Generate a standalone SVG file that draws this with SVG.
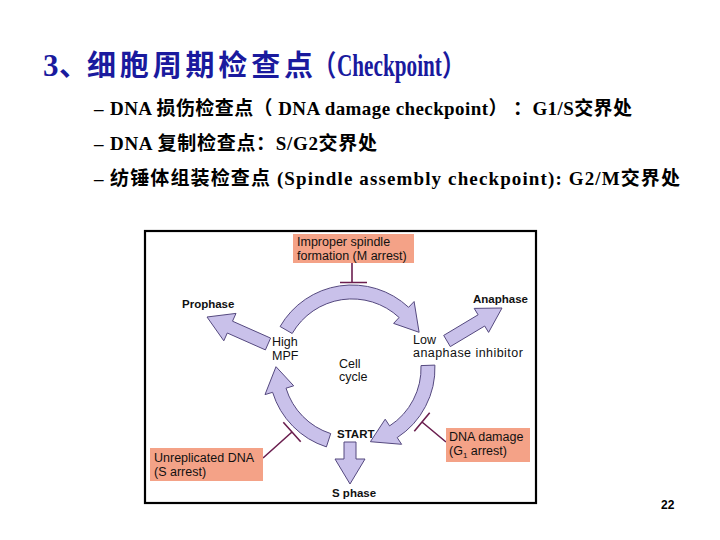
<svg xmlns="http://www.w3.org/2000/svg" width="720" height="540" viewBox="0 0 720 540">
<style>
  .title-cjk { font-family: "Noto Sans CJK SC", sans-serif; font-size: 29px; font-weight: bold; fill: #1a1a9e; }
  .title-lat { font-family: "Liberation Serif", serif; font-size: 31px; font-weight: bold; fill: #1a1a9e; }
  .bullet { font-family: "Liberation Serif", "Noto Sans CJK SC", serif; font-weight: bold; font-size: 19px; fill: #000; }
  .lbl { font-family: "Liberation Sans", Arial, sans-serif; font-size: 12.5px; fill: #111; }
  .lblb { font-family: "Liberation Sans", Arial, sans-serif; font-size: 11.5px; font-weight: bold; fill: #111; }
  .pink { fill: #f4a287; }
  .arrow { fill: #c9c1ea; stroke: #55497f; stroke-width: 1; stroke-linejoin: round; }
  .inhib { stroke: #6b1f4f; stroke-width: 1.6; fill: none; }
</style>

<g id="title">
  <text class="title-lat" x="43" y="76">3</text>
  <text class="title-cjk" x="59" y="76">、</text>
  <text class="title-cjk" x="87" y="76" textLength="226" lengthAdjust="spacing">细胞周期检查点</text>
  <text class="title-cjk" transform="translate(313,76) scale(0.8,1)">（</text>
  <text class="title-lat" transform="translate(337,76) scale(0.685,1)">Checkpoint</text>
  <text class="title-cjk" transform="translate(442,76) scale(0.8,1)">）</text>
</g>

<g id="bullets">
  <text class="bullet" x="94" y="115" font-size="16">–</text>
  <text class="bullet" x="110" y="115" textLength="522" lengthAdjust="spacing">DNA 损伤检查点（ DNA damage checkpoint） ：G1/S交界处</text>
  <text class="bullet" x="94" y="150" font-size="16">–</text>
  <text class="bullet" x="110" y="150" textLength="267" lengthAdjust="spacing">DNA 复制检查点：S/G2交界处</text>
  <text class="bullet" x="94" y="185" font-size="16">–</text>
  <text class="bullet" x="110" y="185" textLength="570" lengthAdjust="spacing">纺锤体组装检查点 (Spindle assembly checkpoint): G2/M交界处</text>
</g>

<g id="figure-frame">
  <rect x="145" y="231" width="391" height="272" fill="#fff" stroke="#000" stroke-width="2.2"/>
</g>

<g id="connectors">
  <!-- top arc: High MPF -> Low anaphase inhibitor -->
  <path class="arrow" d="M280.1,326.5 A83,83 0 0 1 408.6,307.3 L414.1,301.5 L419.1,332.3 L393.6,323.4 L399.1,317.5 A69,69 0 0 0 292.2,333.5 Z"/>
  <!-- right arc: Low anaphase inhibitor -> START -->
  <path class="arrow" d="M434.9,365.1 A83,83 0 0 1 397.2,437.6 L401.6,444.3 L370.4,441.7 L385.2,419.2 L389.6,425.9 A69,69 0 0 0 421.0,365.6 Z"/>
  <!-- left arc: START -> High MPF -->
  <path class="arrow" d="M326.4,446.9 A83,83 0 0 1 272.6,392.3 L265.0,394.6 L276.0,366.7 L293.7,385.8 L286.0,388.2 A69,69 0 0 0 330.7,433.6 Z"/>
  <!-- to Prophase -->
  <polygon class="arrow" points="270.6,338.1 232.5,321.2 236.0,313.4 207,317 223.8,340.8 227.3,333.0 265.4,349.9"/>
  <!-- to Anaphase -->
  <polygon class="arrow" points="450.3,346.6 484.7,326.0 488.6,332.4 502,308 474.2,308.4 478.1,314.8 443.7,335.4"/>
  <!-- to S phase -->
  <polygon class="arrow" points="344,442 356,442 356,459 365,459 350,484 335,459 344,459"/>
  <!-- inhibitors -->
  <path class="inhib" d="M352,263 L352,282 M340,282.5 L367,282.5"/>
  <path class="inhib" d="M263,458 L292,432 M283.3,422.3 L300.7,441.7"/>
  <path class="inhib" d="M446,442 L422,422 M429.7,412.8 L414.3,431.2"/>
</g>

<g id="node-spindle">
  <rect class="pink" x="293" y="234" width="121" height="29"/>
  <text class="lbl"><tspan x="297" y="246">Improper spindle</tspan><tspan x="297" y="259.5">formation (M arrest)</tspan></text>
</g>

<g id="node-unreplicated">
  <rect class="pink" x="150" y="448" width="113" height="33"/>
  <text class="lbl" font-size="13"><tspan x="154" y="462">Unreplicated DNA</tspan><tspan x="154" y="476">(S arrest)</tspan></text>
</g>

<g id="node-dnadamage">
  <rect class="pink" x="446" y="428" width="84" height="34"/>
  <text class="lbl" font-size="13"><tspan x="449" y="441">DNA damage</tspan><tspan x="449" y="455">(G</tspan><tspan font-size="8" dy="3">1</tspan><tspan dy="-3"> arrest)</tspan></text>
</g>

<g id="node-prophase">
  <text class="lblb" x="182" y="308">Prophase</text>
</g>
<g id="node-anaphase">
  <text class="lblb" x="473" y="303">Anaphase</text>
</g>
<g id="node-highmpf">
  <text class="lbl"><tspan x="272" y="346">High</tspan><tspan x="272" y="359.5">MPF</tspan></text>
</g>
<g id="node-low">
  <text class="lbl"><tspan x="413" y="343.5">Low</tspan><tspan x="413" y="357" letter-spacing="0.45">anaphase inhibitor</tspan></text>
</g>
<g id="node-cellcycle">
  <text class="lbl"><tspan x="339" y="367.5">Cell</tspan><tspan x="339" y="381">cycle</tspan></text>
</g>
<g id="node-start">
  <text class="lblb" x="337" y="438" font-size="10.5">START</text>
</g>
<g id="node-sphase">
  <text class="lblb" x="332" y="497">S phase</text>
</g>

<g id="page-number">
  <text x="661" y="509" font-family="Liberation Sans, Arial, sans-serif" font-weight="bold" font-size="12" fill="#000">22</text>
</g>
</svg>
